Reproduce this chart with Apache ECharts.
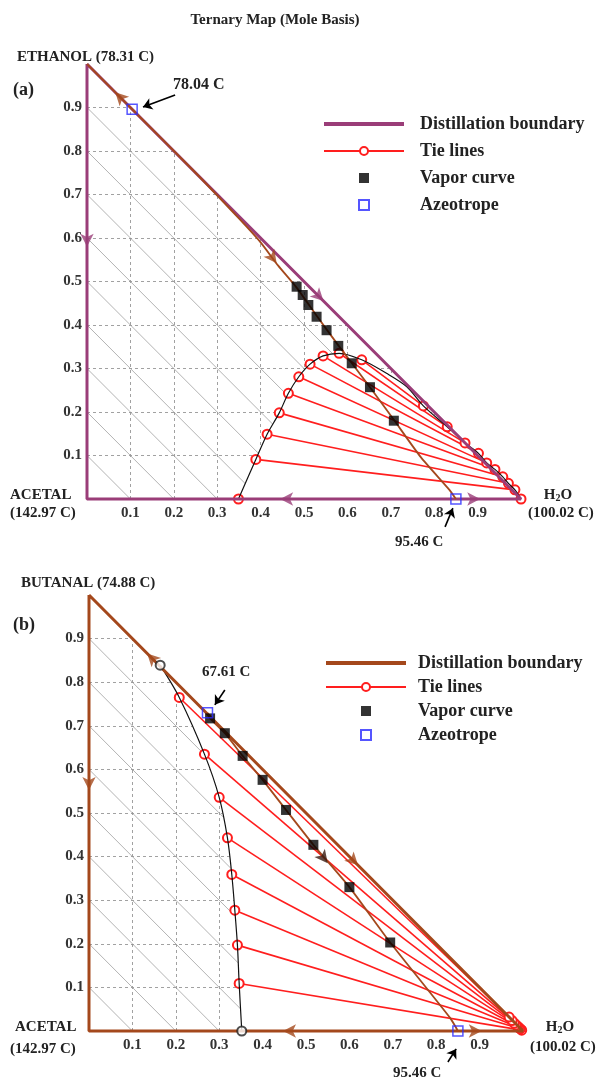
<!DOCTYPE html>
<html>
<head>
<meta charset="utf-8">
<script src="https://cdn.jsdelivr.net/npm/echarts@6/dist/echarts.min.js"></script>
<style>
  html, body { margin: 0; padding: 0; background: #fff; }
  #chart { width: 596px; height: 1083px; }
</style>
</head>
<body>
<div id="chart"></div>
<script>
const FONT = "'Liberation Serif', 'Times New Roman', serif";
const PURPLE = "#9a3d78";
const BROWN = "#a4481c";
const RED = "#ff1e1e";
const BLUE = "#2b2bff";

const ticks = [0.1, 0.2, 0.3, 0.4, 0.5, 0.6, 0.7, 0.8, 0.9];
const triangle = [[0, 1], [0, 0], [1, 0], [0, 1]];

// ---- panel (a): acetal / ethanol / water ----
const aResidue = [[0, 1], [0.104, 0.896], [0.25, 0.75], [0.35, 0.645], [0.40, 0.59], [0.44, 0.537],
  [0.483, 0.486], [0.53, 0.42], [0.58, 0.352], [0.652, 0.257], [0.707, 0.182], [0.77, 0.095],
  [0.836, 0.02], [0.85, 0]];
const aVapor = [[0.483, 0.488], [0.497, 0.469], [0.51, 0.446], [0.529, 0.419], [0.552, 0.388],
  [0.579, 0.352], [0.61, 0.312], [0.652, 0.257], [0.707, 0.18]];
const aAzeo = [[0.104, 0.896], [0.85, 0]];
const aTieLeft = [[0.349, 0], [0.389, 0.091], [0.415, 0.149], [0.443, 0.198], [0.464, 0.243],
  [0.488, 0.281], [0.514, 0.31], [0.544, 0.329], [0.581, 0.335], [0.633, 0.32]];
const aTieRight = [[1, 0], [0.986, 0.021], [0.971, 0.036], [0.958, 0.051], [0.94, 0.068],
  [0.921, 0.083], [0.902, 0.105], [0.871, 0.129], [0.83, 0.166], [0.775, 0.214]];
const aCap = [[0.69, 0.289], [0.737, 0.258]];
// x, y, dx, dy
const aArrowsEdge = [[0, 0.58, 0, -1], [0.545, 0.455, 1, -1], [0.445, 0, -1, 0], [0.906, 0, 1, 0]];
const aArrowsRes = [[0.065, 0.935, -1, 1], [0.437, 0.542, 0.75, -1]];
const aNotes = [[[0.203, 0.929], [0.129, 0.901]], [[0.825, -0.064], [0.843, -0.021]]];

// ---- panel (b): acetal / butanal / water ----
const bResidue = [[0.273, 0.73], [0.279, 0.717], [0.313, 0.683], [0.354, 0.631], [0.40, 0.576],
  [0.454, 0.507], [0.517, 0.427], [0.60, 0.33], [0.694, 0.203], [0.832, 0.03], [0.85, 0]];
const bVapor = [[0.279, 0.717], [0.313, 0.683], [0.354, 0.631], [0.40, 0.576], [0.454, 0.507],
  [0.517, 0.427], [0.60, 0.33], [0.694, 0.203]];
const bAzeo = [[0.273, 0.73], [0.85, 0]];
const bTieLeft = [[0.346, 0.109], [0.342, 0.197], [0.336, 0.277], [0.329, 0.359], [0.319, 0.443],
  [0.30, 0.536], [0.266, 0.635], [0.208, 0.765]];
const bTieRight = [[0.997, 0.002], [0.994, 0.005], [0.99, 0.008], [0.987, 0.011], [0.984, 0.014],
  [0.98, 0.018], [0.975, 0.024], [0.968, 0.032]];
const bEnds = [[0.352, 0], [0.164, 0.839]];
const bArrowsEdge = [[0.134, 0.866, -1, 1], [0.62, 0.38, 1, -1], [0, 0.553, 0, -1], [0.447, 0, -1, 0], [0.905, 0, 1, 0]];
const bArrowsRes = [[0.55, 0.385, 0.79, -1]];
const bNotes = [[[0.313, 0.782], [0.29, 0.748]], [[0.827, -0.071], [0.846, -0.041]]];

let chartDom = document.getElementById("chart");
let myChart = echarts.init(chartDom);
let option;

function gridLines(dashed) {
  const out = [];
  ticks.forEach(t => {
    if (dashed) {
      out.push({ coords: [[0, t], [1 - t, t]] });
      out.push({ coords: [[t, 0], [t, 1 - t]] });
    } else {
      out.push({ coords: [[0, t], [t, 0]] });
    }
  });
  return out;
}

function arrowData(list) {
  return list.map(a => ({
    value: [a[0], a[1]],
    symbolRotate: Math.atan2(a[3], a[2]) * 180 / Math.PI - 90
  }));
}

function panelSeries(i, sfx, p) {
  const base = { xAxisIndex: i, yAxisIndex: i };
  const series = [];
  series.push(Object.assign({
    type: "lines", coordinateSystem: "cartesian2d", silent: true, z: 1,
    lineStyle: { color: "#8a8a8a", width: 0.8, type: [3, 3], opacity: 1 },
    data: gridLines(true)
  }, base));
  series.push(Object.assign({
    type: "lines", coordinateSystem: "cartesian2d", silent: true, z: 1,
    lineStyle: { color: "#a0a0a0", width: 0.8, opacity: 1 },
    data: gridLines(false)
  }, base));
  // two-phase region left blank
  series.push(Object.assign({
    type: "custom", silent: true, z: 2, data: [0],
    renderItem: (params, api) => ({
      type: "polygon",
      shape: { points: p.region.map(pt => api.coord(pt)) },
      style: { fill: "#fff" }
    })
  }, base));
  p.tieLeft.forEach((l, k) => {
    series.push(Object.assign({
      name: "Tie lines" + sfx, type: "line", z: 3, clip: false,
      symbol: "emptyCircle", symbolSize: 9,
      itemStyle: { color: RED, borderWidth: 1.2 },
      lineStyle: { color: RED, width: 1.6 },
      data: [l, p.tieRight[k]]
    }, base));
  });
  series.push(Object.assign({
    name: "binodal", type: "line", z: 4, symbol: "none", smooth: 0.3,
    lineStyle: { color: "#111", width: 1.2 },
    data: p.binodal
  }, base));
  series.push(Object.assign({
    name: "Distillation boundary" + sfx, type: "line", z: 5, symbol: "none", clip: false,
    itemStyle: { color: p.edge },
    lineStyle: { color: p.edge, width: 3 },
    data: triangle
  }, base));
  series.push(Object.assign({
    name: "residue", type: "line", z: 6, symbol: "none", smooth: 0.2,
    lineStyle: { color: BROWN, width: 1.8 },
    data: p.residue
  }, base));
  series.push(Object.assign({
    type: "scatter", z: 7, symbol: "arrow", symbolSize: [10, 13], silent: true, clip: false,
    itemStyle: { color: p.edge },
    data: arrowData(p.arrowsEdge)
  }, base));
  series.push(Object.assign({
    type: "scatter", z: 7, symbol: "arrow", symbolSize: [10, 13], silent: true,
    itemStyle: { color: p.arrowRes },
    data: arrowData(p.arrowsRes)
  }, base));
  if (p.ends) {
    series.push(Object.assign({
      type: "scatter", z: 7, symbol: "emptyCircle", symbolSize: 9, silent: true, clip: false,
      itemStyle: { color: "#222", borderWidth: 1.2 },
      data: p.ends
    }, base));
  }
  series.push(Object.assign({
    name: "Vapor curve" + sfx, type: "scatter", z: 8, symbol: "rect", symbolSize: 10,
    itemStyle: { color: "#000" },
    data: p.vapor
  }, base));
  series.push(Object.assign({
    name: "Azeotrope" + sfx, type: "scatter", z: 9, symbol: "rect", symbolSize: 10, clip: false,
    itemStyle: { color: "rgba(255,255,255,0)", borderColor: BLUE, borderWidth: 1.5 },
    data: p.azeo
  }, base));
  series.push(Object.assign({
    type: "lines", coordinateSystem: "cartesian2d", z: 9, silent: true, clip: false,
    symbol: ["none", "arrow"], symbolSize: 9,
    lineStyle: { color: "#000", width: 1.6, opacity: 1 },
    data: p.notes.map(c => ({ coords: c }))
  }, base));
  return series;
}

const aBinodal = aTieLeft.concat(aCap, aTieRight.slice().reverse());
const bBinodal = [bEnds[0]].concat(bTieLeft, [bEnds[1]]);

const seriesA = panelSeries(0, "", {
  region: aBinodal, tieLeft: aTieLeft, tieRight: aTieRight, binodal: aBinodal,
  edge: PURPLE, residue: aResidue, arrowsEdge: aArrowsEdge, arrowsRes: aArrowsRes, arrowRes: BROWN,
  vapor: aVapor, azeo: aAzeo, notes: aNotes
});
const seriesB = panelSeries(1, " (b)", {
  region: bBinodal.concat([[1, 0]]), tieLeft: bTieLeft, tieRight: bTieRight, binodal: bBinodal,
  edge: BROWN, residue: bResidue, arrowsEdge: bArrowsEdge, arrowsRes: bArrowsRes, arrowRes: "#3a1a10",
  vapor: bVapor, azeo: bAzeo, notes: bNotes, ends: bEnds
});

function axis(i, xy) {
  return {
    gridIndex: i, type: "value", min: 0, max: 1, interval: 0.1,
    axisLine: { show: false }, axisTick: { show: false }, splitLine: { show: false },
    axisLabel: {
      showMinLabel: false, showMaxLabel: false, margin: xy === "x" ? 7 : 5,
      formatter: v => v.toFixed(1),
      fontFamily: FONT, fontWeight: "bold", fontSize: 15, color: "#333"
    }
  };
}

function txt(x, y, text, size, align) {
  return {
    type: "text", x: x, y: y, silent: true,
    style: {
      text: text, font: "bold " + size + "px " + FONT, fill: "#222",
      align: align || "left", verticalAlign: "middle",
      textAlign: align || "left", textVerticalAlign: "middle"
    }
  };
}

function h2o(x, y) {
  return {
    type: "text", x: x, y: y, silent: true,
    style: {
      text: "{n|H}{s|2}{n|O}", align: "center", verticalAlign: "middle", fill: "#222",
      rich: {
        n: { fontFamily: FONT, fontWeight: "bold", fontSize: 15, fill: "#222" },
        s: { fontFamily: FONT, fontWeight: "bold", fontSize: 10, padding: [6, 0, 0, 0], fill: "#222" }
      }
    }
  };
}

const LINE_ICON = "path://M0,0H80V4H0Z";
const SQUARE_ICON = "path://M0,0H10V10H0Z";

function legendData(sfx) {
  return [
    { name: "Distillation boundary" + sfx, icon: LINE_ICON },
    { name: "Tie lines" + sfx },
    { name: "Vapor curve" + sfx, icon: SQUARE_ICON },
    { name: "Azeotrope" + sfx, icon: SQUARE_ICON }
  ];
}

option = {
  animation: false,
  backgroundColor: "#fff",
  textStyle: { fontFamily: FONT },
  grid: [
    { left: 87, top: 64, width: 434, height: 435 },
    { left: 89, top: 595, width: 434, height: 436 }
  ],
  xAxis: [axis(0, "x"), axis(1, "x")],
  yAxis: [axis(0, "y"), axis(1, "y")],
  legend: [
    {
      data: legendData(""),
      orient: "vertical", left: 318, top: 110, itemWidth: 80, itemHeight: 10, itemGap: 9,
      selectedMode: false, symbolKeepAspect: true,
      textStyle: { fontFamily: FONT, fontWeight: "bold", fontSize: 18, color: "#222", lineHeight: 18, padding: [0, 0, 0, 11] }
    },
    {
      data: legendData(" (b)"),
      orient: "vertical", left: 320, top: 649, itemWidth: 80, itemHeight: 10, itemGap: 6,
      selectedMode: false, symbolKeepAspect: true,
      textStyle: { fontFamily: FONT, fontWeight: "bold", fontSize: 18, color: "#222", lineHeight: 18, padding: [0, 0, 0, 7] },
      formatter: n => n.replace(" (b)", "")
    }
  ],
  graphic: [
    txt(275, 20, "Ternary Map (Mole Basis)", 15, "center"),
    txt(17, 57, "ETHANOL (78.31 C)", 15),
    txt(13, 90, "(a)", 18),
    txt(173, 85, "78.04 C", 16),
    txt(10, 495, "ACETAL", 15),
    txt(10, 513, "(142.97 C)", 15),
    h2o(558, 495),
    txt(528, 513, "(100.02 C)", 15),
    txt(395, 542, "95.46 C", 15),
    txt(21, 583, "BUTANAL (74.88 C)", 15),
    txt(13, 625, "(b)", 18),
    txt(202, 672, "67.61 C", 15),
    txt(15, 1027, "ACETAL", 15),
    txt(10, 1049, "(142.97 C)", 15),
    h2o(560, 1027),
    txt(530, 1047, "(100.02 C)", 15),
    txt(393, 1073, "95.46 C", 15)
  ],
  series: seriesA.concat(seriesB)
};

option && myChart.setOption(option);
</script>
</body>
</html>
